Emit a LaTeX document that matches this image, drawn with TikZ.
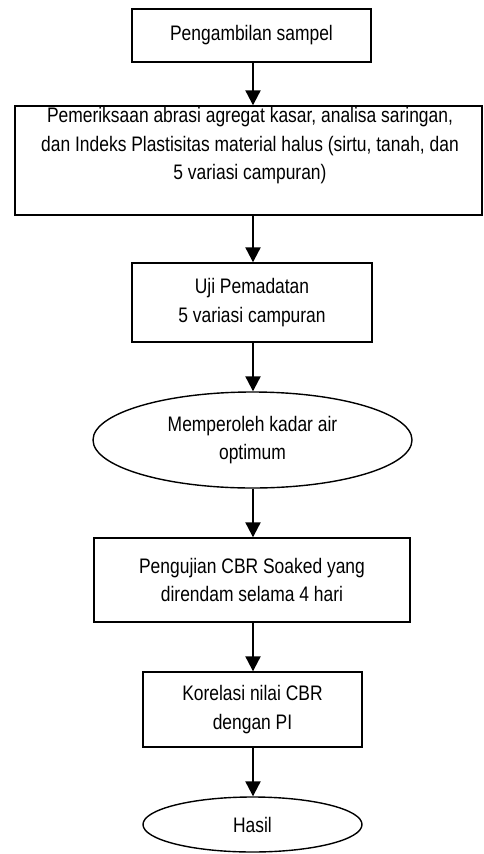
\documentclass[tikz,border=0pt]{standalone}
\usepackage{fontspec}
\setmainfont[FakeStretch=0.83]{Liberation Sans}
\usetikzlibrary{arrows.meta,shapes.geometric}
\begin{document}
\begin{tikzpicture}[x=1pt,y=-1pt,
  every node/.style={font=\fontsize{21}{28.5}\selectfont, align=center, inner sep=0pt},
  procbox/.style={draw, line width=1.4pt, rectangle},
  termell/.style={draw, line width=1.4pt, ellipse},
  arr/.style={line width=2.2pt, -{Triangle[length=15pt,width=15pt]}}
]
\useasboundingbox (0,0) rectangle (484,854);
\node[procbox, minimum width=239pt, minimum height=53pt] (b1) at (251.5,35.5) {Pengambilan sampel};
\node[procbox, minimum width=467pt, minimum height=109pt] (b2) at (248.5,160.5) {};
\node (t2) at (250,146) {Pemeriksaan abrasi agregat kasar, analisa saringan,\\dan Indeks Plastisitas material halus (sirtu, tanah, dan\\5 variasi campuran)};
\node[procbox, minimum width=240pt, minimum height=79pt] (b3) at (252,302.5) {Uji Pemadatan\\5 variasi campuran};
\node[termell, minimum width=319pt, minimum height=96pt] (e1) at (252.5,440) {Memperoleh kadar air\\optimum};
\node[procbox, minimum width=316pt, minimum height=84pt] (b4) at (252,580) {Pengujian CBR Soaked yang\\direndam selama 4 hari};
\node[procbox, minimum width=219pt, minimum height=75pt] (b5) at (252.5,709.5) {Korelasi nilai CBR\\dengan PI};
\node[termell, minimum width=219pt, minimum height=55pt] (e2) at (252.5,824.5) {Hasil};
\coordinate (ax) at (253,0);
\draw[arr] (ax |- b1.south) -- (ax |- b2.north);
\draw[arr] (ax |- b2.south) -- (ax |- b3.north);
\draw[arr] (ax |- b3.south) -- (ax |- e1.north);
\draw[arr] (ax |- e1.south) -- (ax |- b4.north);
\draw[arr] (ax |- b4.south) -- (ax |- b5.north);
\draw[arr] (ax |- b5.south) -- (ax |- e2.north);
\end{tikzpicture}
\end{document}
